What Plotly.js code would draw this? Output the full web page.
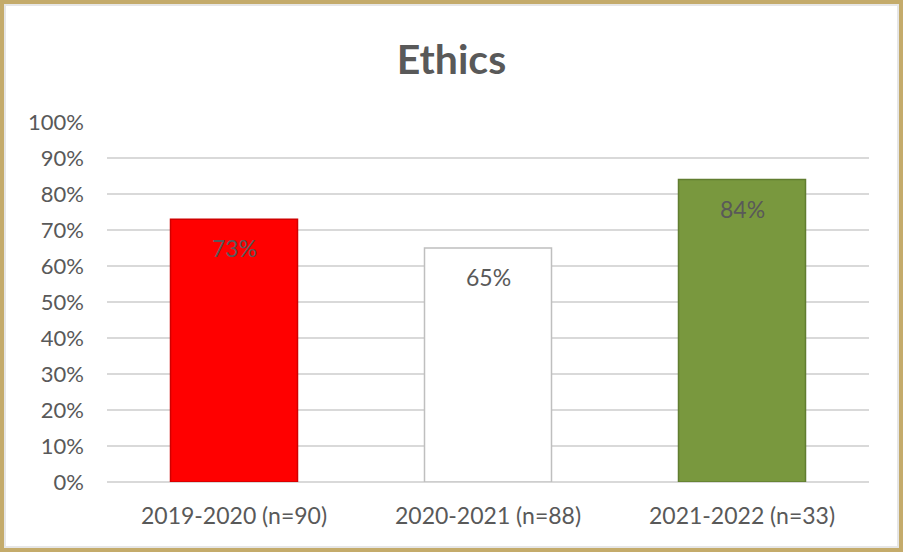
<!DOCTYPE html>
<html><head><meta charset="utf-8">
<script src="https://cdn.plot.ly/plotly-3.0.1.min.js"></script>
<style>
html,body{margin:0;padding:0;background:#fff;}
#wrap{position:relative;width:903px;height:552px;}
#chart{width:903px;height:552px;}
#frame{position:absolute;left:0;top:0;width:903px;height:552px;box-sizing:border-box;border:4px solid #c4ab6b;pointer-events:none;}
#inner{position:absolute;left:4px;top:4px;width:895px;height:544px;box-sizing:border-box;border:2px solid #e6e6e6;pointer-events:none;}
</style></head>
<body>
<div id="wrap"><div id="chart"></div><div id="frame"></div><div id="inner"></div></div>
<script>
const categories = ["2019-2020 (n=90)", "2020-2021 (n=88)", "2021-2022 (n=33)"];
const values = [73, 65, 84];
const barColors = ["#ff0000", "#ffffff", "#79983e"];
const lineColors = ["#d00000", "#bfbfbf", "#617d30"];
const labelFont = "Lato, 'Open Sans', sans-serif";

const trace = {
  type: "bar",
  x: categories,
  y: values,
  marker: {color: barColors, line: {color: lineColors, width: 1.5}},
  hoverinfo: "skip"
};

const annotations = categories.map((c, i) => ({
  x: c, y: values[i], xref: "x", yref: "y",
  text: values[i] + "%", showarrow: false,
  yshift: -29, font: {family: labelFont, size: 23, color: "#595959"}
}));

const layout = {
  width: 903, height: 552,
  margin: {l: 107, r: 34, t: 122, b: 70},
  paper_bgcolor: "#ffffff", plot_bgcolor: "#ffffff",
  showlegend: false,
  bargap: 0.5,
  title: {text: "<b>Ethics</b>", x: 0.5, xanchor: "center", y: 1 - 60/552, yref: "container", yanchor: "middle",
          font: {family: labelFont, size: 41, color: "#595959"}},
  xaxis: {type: "category", showgrid: false, zeroline: false, showline: false, ticks: "",
          tickfont: {family: labelFont, size: 23, color: "#595959"}, ticklabelstandoff: 18, fixedrange: true},
  yaxis: {range: [0, 100], dtick: 10, ticksuffix: "%", showgrid: true, gridcolor: "#d9d9d9", gridwidth: 1.5,
          zeroline: true, zerolinecolor: "#d9d9d9", zerolinewidth: 1.5, showline: false, ticks: "",
          tickfont: {family: labelFont, size: 22, color: "#595959"}, ticklabelstandoff: 22, fixedrange: true},
  annotations: annotations
};

Plotly.newPlot("chart", [trace], layout, {displayModeBar: false, staticPlot: true});
</script>
</body></html>
